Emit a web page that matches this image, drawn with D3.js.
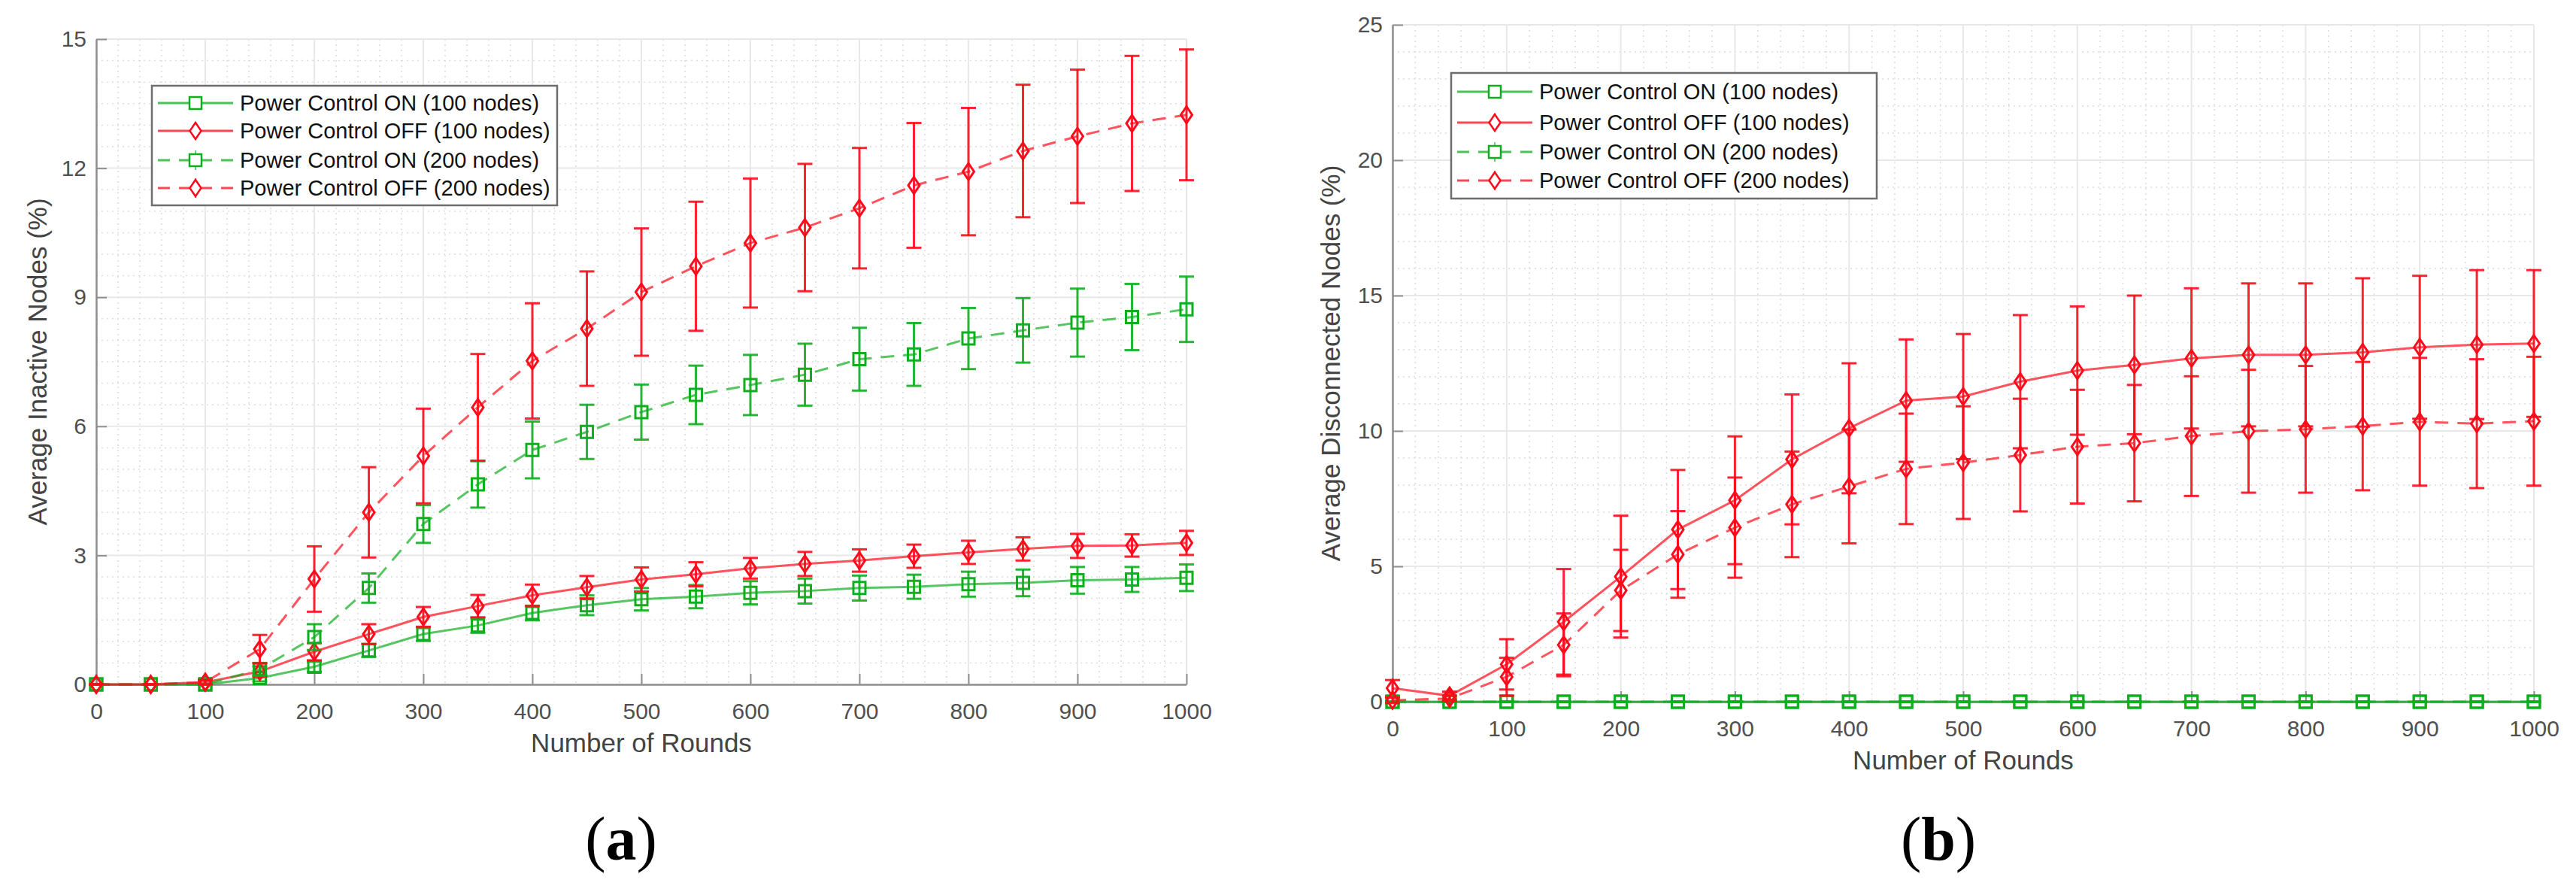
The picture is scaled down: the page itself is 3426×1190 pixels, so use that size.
<!DOCTYPE html>
<html>
<head>
<meta charset="utf-8">
<script src="https://cdn.jsdelivr.net/npm/d3@7"></script>
<style>
  body { margin: 0; background: #fff; }
  text { font-family: "Liberation Sans", Arial, sans-serif; }
  text.caption { font-family: "Liberation Serif", "Times New Roman", serif; }
</style>
</head>
<body>
<div id="vis"></div>
<script>
// x values shared by every series
const ROUNDS = [0, 50, 100, 150, 200, 250, 300, 350, 400, 450, 500, 550, 600, 650, 700, 750, 800, 850, 900, 950, 1000];
const X_TICKS = [0, 100, 200, 300, 400, 500, 600, 700, 800, 900, 1000];

// (a) Average Inactive Nodes (%)
const A_Y_TICKS = [0, 3, 6, 9, 12, 15];
const A_ON_100 = [0, 0, 0, 0.15, 0.41, 0.79, 1.17, 1.37, 1.66, 1.84, 1.98, 2.04, 2.13, 2.17, 2.24, 2.27, 2.33, 2.36, 2.42, 2.44, 2.48];
const A_ON_100_ERR = [0, 0, 0, 0.08, 0.12, 0.15, 0.16, 0.17, 0.17, 0.23, 0.26, 0.27, 0.27, 0.29, 0.29, 0.28, 0.29, 0.31, 0.31, 0.29, 0.31];
const A_OFF_100 = [0, 0, 0.05, 0.3, 0.76, 1.17, 1.57, 1.82, 2.07, 2.26, 2.44, 2.56, 2.7, 2.8, 2.88, 2.98, 3.07, 3.15, 3.22, 3.23, 3.29];
const A_OFF_100_ERR = [0, 0, 0.05, 0.12, 0.2, 0.23, 0.23, 0.26, 0.25, 0.26, 0.28, 0.28, 0.24, 0.28, 0.26, 0.27, 0.27, 0.27, 0.28, 0.26, 0.28];
const A_ON_200 = [0, 0, 0, 0.35, 1.1, 2.24, 3.73, 4.65, 5.45, 5.87, 6.33, 6.73, 6.96, 7.2, 7.56, 7.67, 8.04, 8.23, 8.41, 8.54, 8.72];
const A_ON_200_ERR = [0, 0, 0, 0.15, 0.3, 0.34, 0.44, 0.54, 0.66, 0.63, 0.64, 0.68, 0.7, 0.72, 0.73, 0.73, 0.71, 0.75, 0.79, 0.77, 0.76];
const A_OFF_200 = [0, 0, 0.05, 0.82, 2.45, 4.0, 5.31, 6.44, 7.52, 8.27, 9.12, 9.72, 10.26, 10.62, 11.07, 11.6, 11.92, 12.4, 12.74, 13.04, 13.24];
const A_OFF_200_ERR = [0, 0, 0.05, 0.33, 0.76, 1.05, 1.1, 1.24, 1.34, 1.33, 1.48, 1.5, 1.5, 1.48, 1.4, 1.45, 1.48, 1.54, 1.55, 1.57, 1.52];

// (b) Average Disconnected Nodes (%)
const B_Y_TICKS = [0, 5, 10, 15, 20, 25];
const B_ON_100 = [0, 0, 0, 0, 0, 0, 0, 0, 0, 0, 0, 0, 0, 0, 0, 0, 0, 0, 0, 0, 0];
const B_ON_100_ERR = [0, 0, 0, 0, 0, 0, 0, 0, 0, 0, 0, 0, 0, 0, 0, 0, 0, 0, 0, 0, 0];
const B_OFF_100 = [0.5, 0.22, 1.38, 2.95, 4.62, 6.36, 7.44, 8.95, 10.1, 11.12, 11.27, 11.82, 12.23, 12.44, 12.68, 12.81, 12.81, 12.9, 13.09, 13.19, 13.23];
const B_OFF_100_ERR = [0.3, 0.15, 0.93, 1.95, 2.25, 2.2, 2.36, 2.4, 2.4, 2.26, 2.31, 2.46, 2.37, 2.56, 2.59, 2.64, 2.64, 2.74, 2.64, 2.75, 2.71];
const B_ON_200 = [0, 0, 0, 0, 0, 0, 0, 0, 0, 0, 0, 0, 0, 0, 0, 0, 0, 0, 0, 0, 0];
const B_ON_200_ERR = [0, 0, 0, 0, 0, 0, 0, 0, 0, 0, 0, 0, 0, 0, 0, 0, 0, 0, 0, 0, 0];
const B_OFF_200 = [0.05, 0.12, 0.92, 2.1, 4.11, 5.44, 6.43, 7.29, 7.95, 8.6, 8.83, 9.11, 9.42, 9.55, 9.81, 9.99, 10.06, 10.18, 10.34, 10.27, 10.36];
const B_OFF_200_ERR = [0.1, 0.1, 0.7, 1.16, 1.5, 1.6, 1.85, 1.95, 2.1, 2.04, 2.08, 2.08, 2.1, 2.15, 2.21, 2.27, 2.34, 2.37, 2.36, 2.38, 2.38];

const SERIES_NAMES = ["Power Control ON (100 nodes)", "Power Control OFF (100 nodes)",
                      "Power Control ON (200 nodes)", "Power Control OFF (200 nodes)"];

const GREEN = "#0fae1f";
const RED = "#ff0a1a";
const DASH = "18,12";

const SVG = d3.select("#vis").append("svg")
  .attr("width", 3426).attr("height", 1190)
  .style("background", "#fff");

// draws a diamond or a square marker centred on (x,y)
function markerPath(kind, x, y) {
  if (kind === "diamond") {
    return "M" + x + "," + (y - 11) + "L" + (x + 7.5) + "," + y + "L" + x + "," + (y + 11) + "L" + (x - 7.5) + "," + y + "Z";
  }
  return "M" + (x - 8) + "," + (y - 8) + "h16v16h-16Z";
}

function drawPanel(p) {
  const X_SCALE = d3.scaleLinear().domain([0, 1000]).range([p.left, p.right]);
  const Y_SCALE = d3.scaleLinear().domain([0, p.yMax]).range([p.bottom, p.top]);
  const g = SVG.append("g");

  // minor grid (dotted)
  const minorX = d3.range(0, 1001, 20).filter(v => v % 100 !== 0);
  const minorY = d3.range(0, p.yMax + 0.001, p.yMinor).filter(v => !p.yTicks.includes(+v.toFixed(3)));
  g.selectAll(".mx").data(minorX).enter().append("line")
    .attr("x1", d => X_SCALE(d)).attr("x2", d => X_SCALE(d))
    .attr("y1", p.top).attr("y2", p.bottom)
    .attr("stroke", "#dcdcdc").attr("stroke-width", 1.5).attr("stroke-dasharray", "2,5");
  g.selectAll(".my").data(minorY).enter().append("line")
    .attr("y1", d => Y_SCALE(d)).attr("y2", d => Y_SCALE(d))
    .attr("x1", p.left).attr("x2", p.right)
    .attr("stroke", "#dcdcdc").attr("stroke-width", 1.5).attr("stroke-dasharray", "2,5");

  // major grid
  g.selectAll(".gx").data(X_TICKS).enter().append("line")
    .attr("x1", d => X_SCALE(d)).attr("x2", d => X_SCALE(d))
    .attr("y1", p.top).attr("y2", p.bottom)
    .attr("stroke", "#e8e8e8").attr("stroke-width", 2);
  g.selectAll(".gy").data(p.yTicks).enter().append("line")
    .attr("y1", d => Y_SCALE(d)).attr("y2", d => Y_SCALE(d))
    .attr("x1", p.left).attr("x2", p.right)
    .attr("stroke", "#e8e8e8").attr("stroke-width", 2);

  // axes
  const xAxis = g.append("g")
    .attr("transform", "translate(0," + p.bottom + ")")
    .call(d3.axisBottom(X_SCALE).tickValues(X_TICKS).tickFormat(d3.format("d"))
      .tickSize(-14).tickSizeOuter(0).tickPadding(25));
  const yAxis = g.append("g")
    .attr("transform", "translate(" + p.left + ",0)")
    .call(d3.axisLeft(Y_SCALE).tickValues(p.yTicks).tickFormat(d3.format("d"))
      .tickSize(-14).tickSizeOuter(0).tickPadding(13));
  [xAxis, yAxis].forEach(ax => {
    ax.select(".domain").attr("stroke", "#8f8f8f").attr("stroke-width", 2.5);
    ax.selectAll(".tick line").attr("stroke", "#8f8f8f").attr("stroke-width", 2);
    ax.selectAll(".tick text").attr("font-size", "30px").attr("fill", "#505050");
  });

  // axis titles
  g.append("text")
    .attr("x", (p.left + p.right) / 2).attr("y", p.bottom + 90)
    .attr("text-anchor", "middle").attr("font-size", "35px").attr("fill", "#444")
    .text("Number of Rounds");
  g.append("text")
    .attr("transform", "translate(" + p.yLabelX + "," + ((p.top + p.bottom) / 2) + ") rotate(-90)")
    .attr("text-anchor", "middle").attr("dy", "0.35em").attr("font-size", "35px").attr("fill", "#444")
    .text(p.yLabel);

  // series: lines, error bars, markers
  p.series.forEach(s => {
    const pts = ROUNDS.map((r, i) => ({ x: r, y: s.values[i], e: s.err[i] }));
    const line = d3.line().x(d => X_SCALE(d.x)).y(d => Y_SCALE(d.y));
    g.append("path").datum(pts)
      .attr("d", line).attr("fill", "none")
      .attr("stroke", s.color).attr("stroke-opacity", 0.7).attr("stroke-width", 3)
      .attr("stroke-dasharray", s.dashed ? DASH : null);

    const eb = g.append("g").attr("stroke", s.color).attr("stroke-width", 3).attr("stroke-opacity", 0.9);
    eb.selectAll(".v").data(pts).enter().append("line")
      .attr("x1", d => X_SCALE(d.x)).attr("x2", d => X_SCALE(d.x))
      .attr("y1", d => Y_SCALE(d.y - d.e)).attr("y2", d => Y_SCALE(d.y + d.e));
    eb.selectAll(".t").data(pts).enter().append("line")
      .attr("x1", d => X_SCALE(d.x) - 10).attr("x2", d => X_SCALE(d.x) + 10)
      .attr("y1", d => Y_SCALE(d.y + d.e)).attr("y2", d => Y_SCALE(d.y + d.e));
    eb.selectAll(".b").data(pts).enter().append("line")
      .attr("x1", d => X_SCALE(d.x) - 10).attr("x2", d => X_SCALE(d.x) + 10)
      .attr("y1", d => Y_SCALE(d.y - d.e)).attr("y2", d => Y_SCALE(d.y - d.e));

    g.selectAll(null).data(pts).enter().append("path")
      .attr("d", d => markerPath(s.marker, X_SCALE(d.x), Y_SCALE(d.y)))
      .attr("fill", "none").attr("stroke", s.color).attr("stroke-width", 3);
  });

  // legend
  const L = p.legend;
  const lg = g.append("g");
  lg.append("rect").attr("x", L.x).attr("y", L.y).attr("width", L.w).attr("height", L.h)
    .attr("fill", "#fff").attr("stroke", "#6e6e6e").attr("stroke-width", 2.5);
  p.series.forEach((s, i) => {
    const ry = L.y + L.rows[i];
    lg.append("line").attr("x1", L.x + 8).attr("x2", L.x + 108).attr("y1", ry).attr("y2", ry)
      .attr("stroke", s.color).attr("stroke-width", 3).attr("stroke-opacity", 0.75)
      .attr("stroke-dasharray", s.dashed ? "16,12" : null);
    lg.append("line").attr("x1", L.x + 58).attr("x2", L.x + 58).attr("y1", ry - 13).attr("y2", ry + 13)
      .attr("stroke", s.color).attr("stroke-width", 2).attr("stroke-opacity", s.dashed ? 0.6 : 0);
    lg.append("path").attr("d", markerPath(s.marker, L.x + 58, ry))
      .attr("fill", "#fff").attr("stroke", s.color).attr("stroke-width", 2.5);
    lg.append("text").attr("x", L.x + 117).attr("y", ry).attr("dy", "0.36em")
      .attr("font-size", "29px").attr("fill", "#111").text(SERIES_NAMES[i]);
  });

  // sub-caption
  const cap = SVG.append("text").attr("class", "caption")
    .attr("x", p.captionX).attr("y", 1143)
    .attr("text-anchor", "middle").attr("font-size", "82px").attr("fill", "#000");
  cap.append("tspan").text("(");
  cap.append("tspan").attr("font-weight", "bold").text(p.caption);
  cap.append("tspan").text(")");
}

drawPanel({
  left: 128, right: 1578, top: 52, bottom: 910,
  yMax: 15, yMinor: 0.5, yTicks: A_Y_TICKS, yLabelX: 50,
  yLabel: "Average Inactive Nodes (%)",
  legend: { x: 202, y: 114, w: 539, h: 159, rows: [23, 60, 99, 136] },
  caption: "a", captionX: 826,
  series: [
    { values: A_ON_100, err: A_ON_100_ERR, color: GREEN, dashed: false, marker: "square" },
    { values: A_OFF_100, err: A_OFF_100_ERR, color: RED, dashed: false, marker: "diamond" },
    { values: A_ON_200, err: A_ON_200_ERR, color: GREEN, dashed: true, marker: "square" },
    { values: A_OFF_200, err: A_OFF_200_ERR, color: RED, dashed: true, marker: "diamond" }
  ]
});

drawPanel({
  left: 1852, right: 3370, top: 33, bottom: 933,
  yMax: 25, yMinor: 1, yTicks: B_Y_TICKS, yLabelX: 1770,
  yLabel: "Average Disconnected Nodes (%)",
  legend: { x: 1930, y: 97, w: 566, h: 167, rows: [25, 66, 105, 143] },
  caption: "b", captionX: 2578,
  series: [
    { values: B_ON_100, err: B_ON_100_ERR, color: GREEN, dashed: false, marker: "square" },
    { values: B_OFF_100, err: B_OFF_100_ERR, color: RED, dashed: false, marker: "diamond" },
    { values: B_ON_200, err: B_ON_200_ERR, color: GREEN, dashed: true, marker: "square" },
    { values: B_OFF_200, err: B_OFF_200_ERR, color: RED, dashed: true, marker: "diamond" }
  ]
});
</script>
</body>
</html>
